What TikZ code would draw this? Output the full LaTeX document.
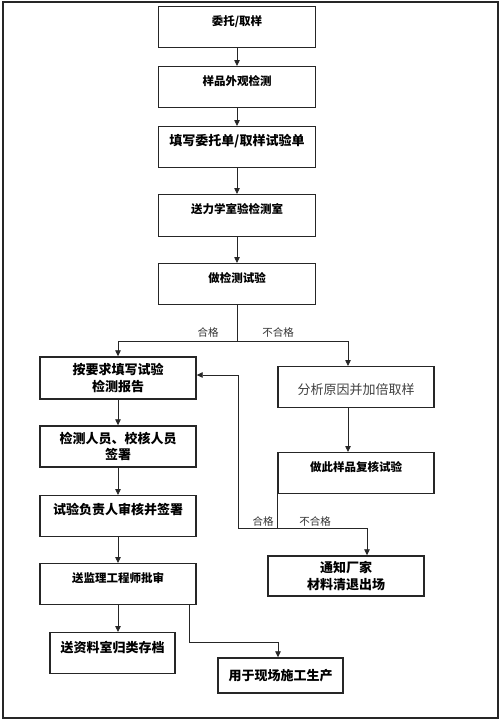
\documentclass[tikz,border=0pt]{standalone}
\usepackage{fontspec}
\setmainfont{Noto Sans CJK SC}
\usetikzlibrary{arrows.meta}
\begin{document}
\begin{tikzpicture}[x=1pt,y=-1pt,
  boxline/.style={draw=black!85, line width=1.4pt, inner sep=0pt},
  topbox/.style={boxline, anchor=north, text height=18.6pt, text depth=22.4pt},
  cbox/.style={boxline, align=center},
  fa/.style={font=\fontsize{11.5}{13}\selectfont\bfseries},
  fb/.style={font=\fontsize{13}{16.5}\selectfont\bfseries},
  fr/.style={font=\fontsize{13}{16.5}\selectfont, text=black!75},
  lab/.style={font=\fontsize{10.5}{12}\selectfont, text=black!80, inner sep=0pt},
  conn/.style={draw=black!85, line width=0.8pt},
  arr/.style={conn, -{Triangle[length=6pt,width=5.5pt]}}
]
\useasboundingbox (0,0) rectangle (500,720);
\draw[line width=1.6pt, black!85] (3,2) rectangle (498,718);

% top column
\node[topbox, fa, minimum width=157pt] (b1) at (237,6) {委托/取样};
\node[topbox, fa, minimum width=157pt] (b2) at (237,66) {样品外观检测};
\node[topbox, fb, minimum width=157pt, text height=19pt, text depth=22pt] (b3) at (237,126) {填写委托单/取样试验单};
\node[topbox, fa, minimum width=157pt, text depth=23.4pt] (b4) at (237,194) {送力学室验检测室};
\node[topbox, fa, minimum width=157pt] (b5) at (237,263) {做检测试验};

\draw[arr] (b1.south) -- (b2.north);
\draw[arr] (b2.south) -- (b3.north);
\draw[arr] (b3.south) -- (b4.north);
\draw[arr] (b4.south) -- (b5.north);

% left column
\node[cbox, fb, minimum width=156pt, minimum height=42pt] (L1) at (118,378) {按要求填写试验\\检测报告};
\node[cbox, fb, minimum width=156pt, minimum height=41pt] (L2) at (118,446.5) {检测人员、校核人员\\签署};
\node[topbox, fb, minimum width=156pt, text height=19pt, text depth=22pt] (L3) at (118,495) {试验负责人审核并签署};
\node[topbox, fa, minimum width=156pt] (L4) at (118,563) {送监理工程师批审};
\node[topbox, fb, minimum width=125pt, text height=20pt, text depth=21pt] (L5) at (112.5,632) {送资料室归类存档};
\node[cbox, fb, minimum width=125pt, minimum height=35pt] (L6) at (280.5,675.5) {用于现场施工生产};

% right column
\node[topbox, fr, minimum width=156pt, text height=28pt, text depth=13pt] (R1) at (356,366) {分析原因并加倍取样};
\node[topbox, fa, minimum width=156pt] (R2) at (356,452) {做此样品复核试验};
\node[cbox, fb, minimum width=156pt, minimum height=40pt] (R3) at (346,576) {通知厂家\\材料清退出场};

% split after test
\coordinate (split) at (237,341);
\draw[conn] (b5.south) -- (split);
\draw[arr] (split) -| (L1.north);
\draw[arr] (split) -| ([xshift=-8pt]R1.north);
\node[lab] (ok1) at (208,332) {合格};
\node[lab] (ng1) at (278,332) {不合格};

% left chain
\draw[arr] (L1.south) -- (L2.north);
\draw[arr] (L2.south) -- (L3.north);
\draw[arr] (L3.south) -- (L4.north);
\draw[arr] (L4.south) -- (L4.south |- L5.north);
\draw[arr] ([xshift=-7pt]L4.south east) -- ++(0,37) -| ([xshift=-2.5pt]L6.north);

% right chain
\draw[arr] ([xshift=-8pt]R1.south) -- ([xshift=-8pt]R2.north);
\draw[conn] (R2.south west) -- ++(0,34) coordinate (j);
\coordinate (ret) at (238,375);
\draw[arr] (j) -| ([xshift=21pt]R3.north);
\draw[arr] (j) -| (ret) -- (ret -| L1.east);
\node[lab] (ok2) at (263,521) {合格};
\node[lab] (ng2) at (315,521) {不合格};
\end{tikzpicture}
\end{document}
